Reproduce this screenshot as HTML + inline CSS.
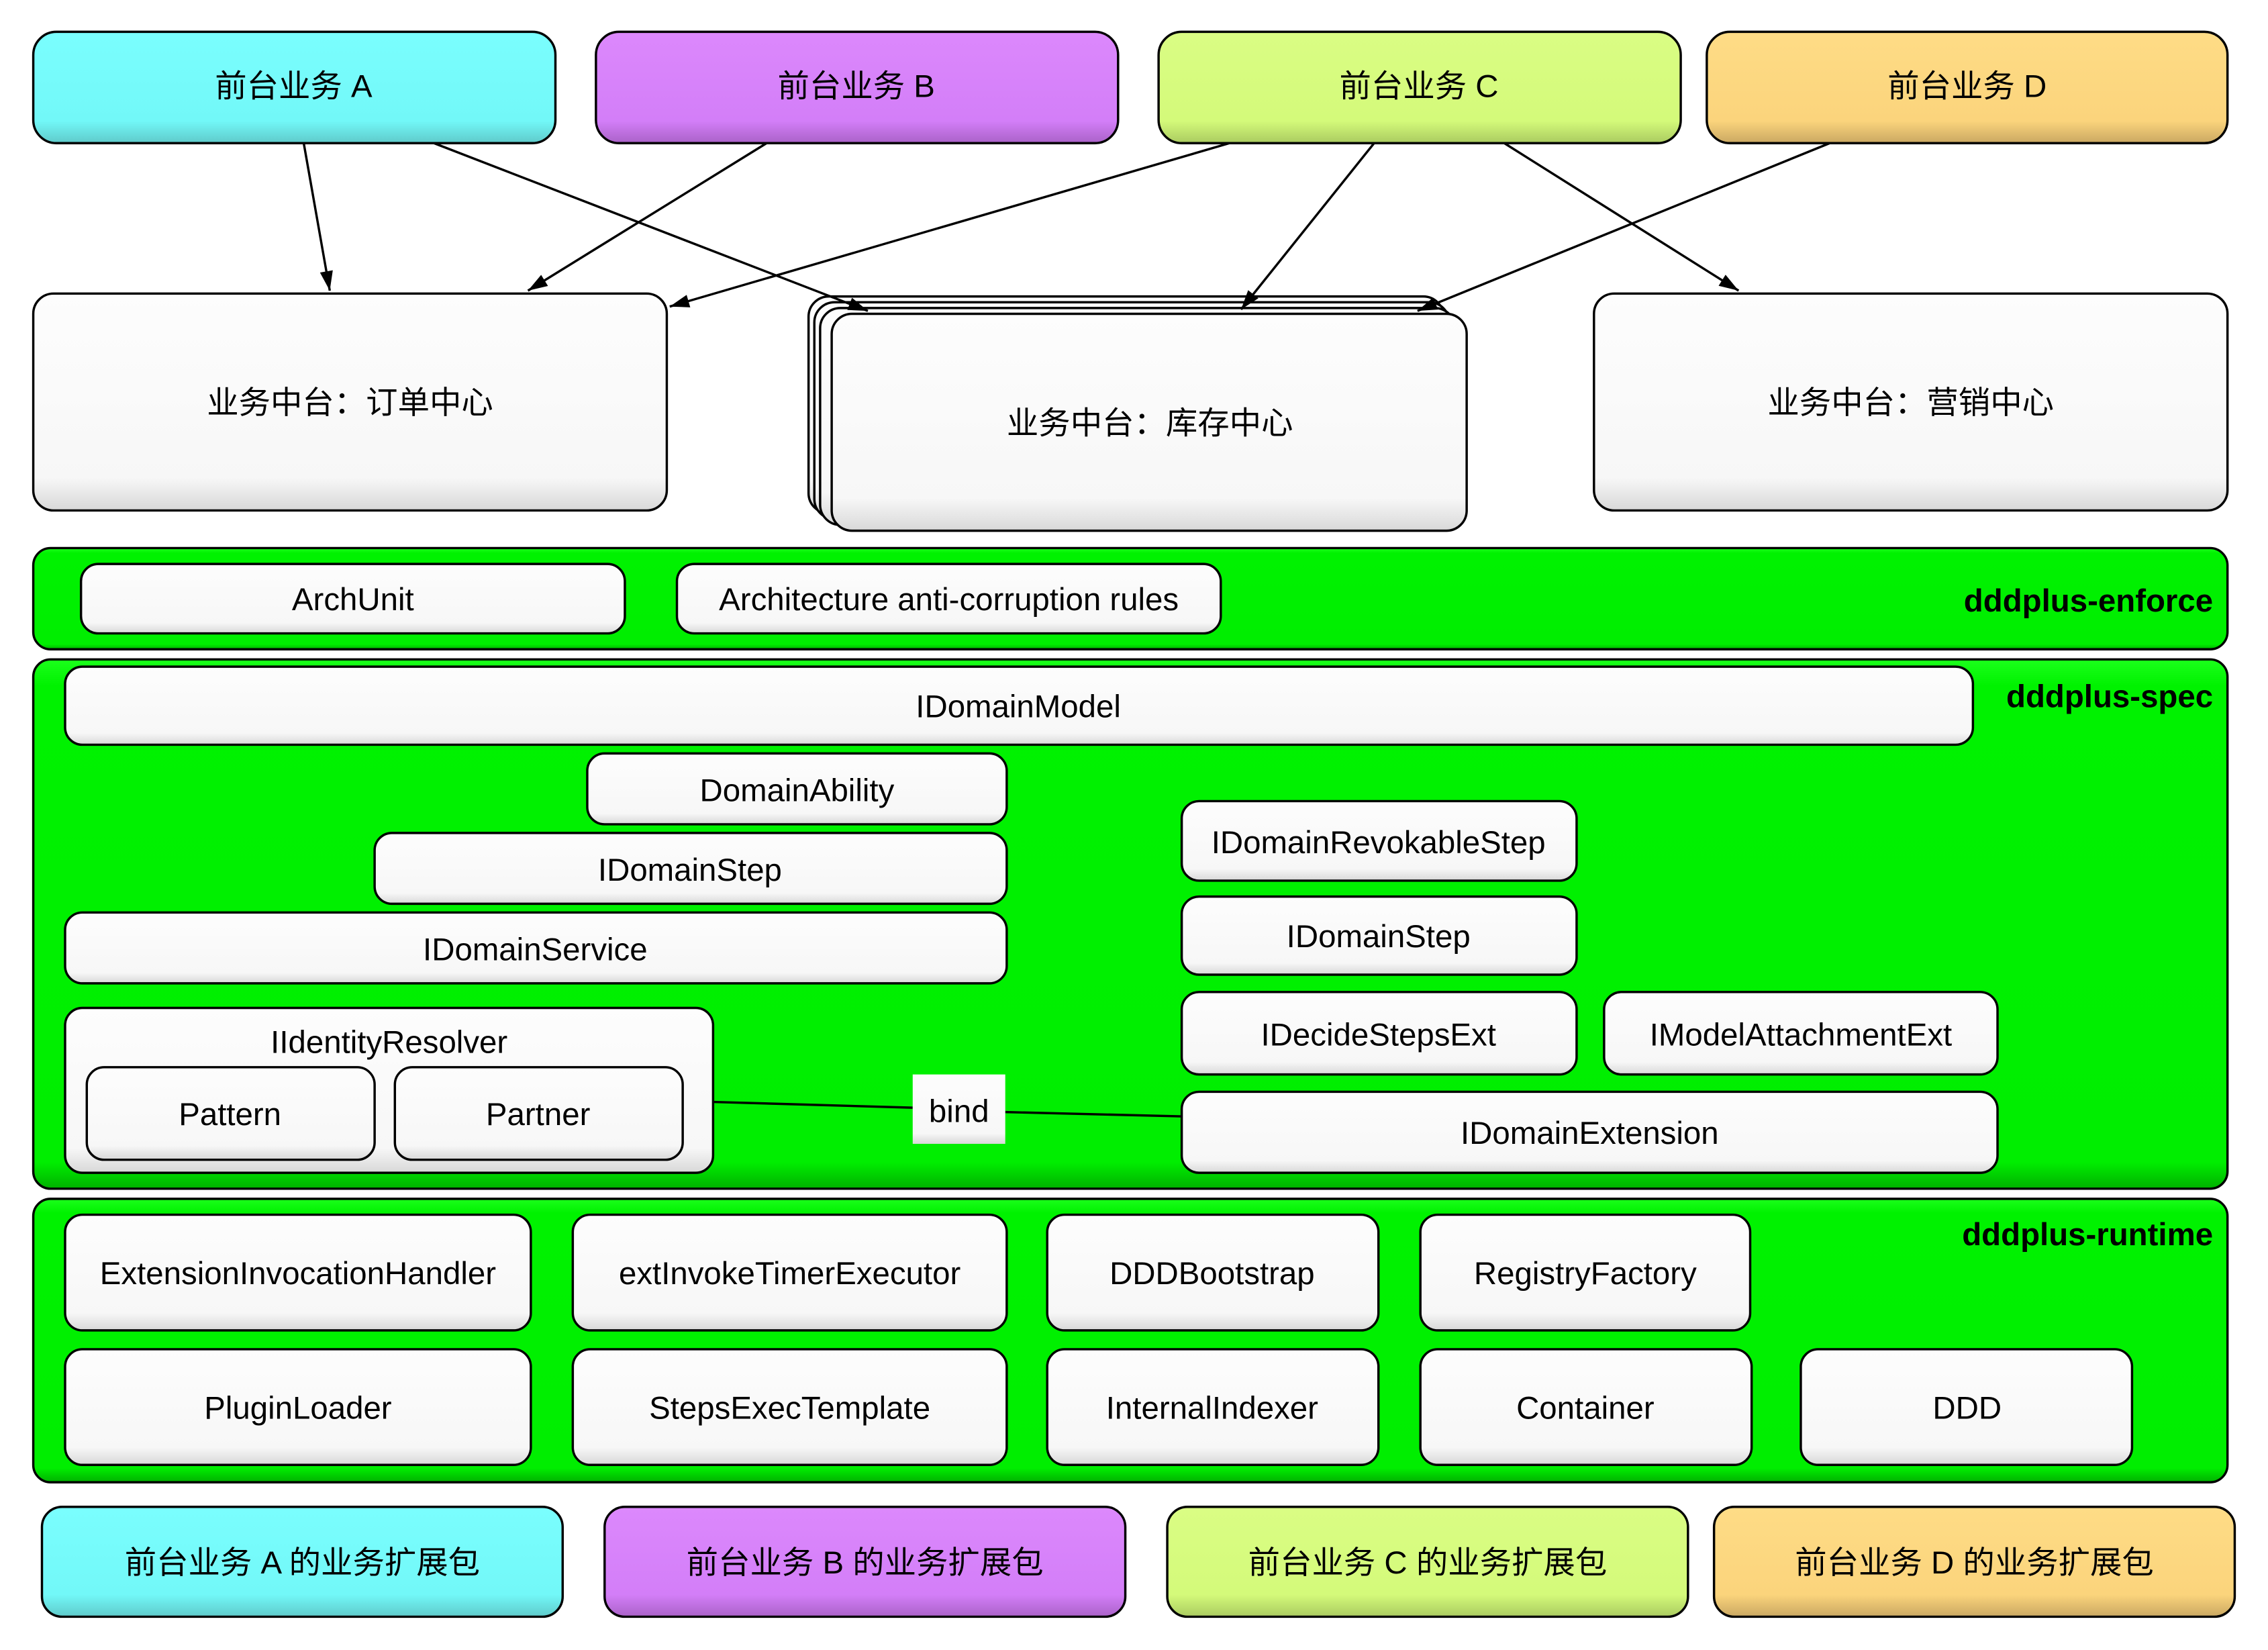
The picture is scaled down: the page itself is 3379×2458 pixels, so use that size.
<!DOCTYPE html>
<html><head><meta charset="utf-8"><style>html,body{margin:0;padding:0;background:#fff}svg{display:block}</style></head><body>
<svg width="3379" height="2458" viewBox="0 0 1568 1141" preserveAspectRatio="none" xmlns="http://www.w3.org/2000/svg" font-family="'Liberation Sans','Noto Sans CJK SC',sans-serif">
<defs>
<linearGradient id="w" x1="0" y1="0" x2="0" y2="1"><stop offset="0" stop-color="#fdfdfd"/><stop offset="0.85" stop-color="#f7f7f7"/><stop offset="1" stop-color="#d8d8d8"/></linearGradient>
<linearGradient id="ca" x1="0" y1="0" x2="0" y2="1"><stop offset="0" stop-color="#7afefe"/><stop offset="0.8" stop-color="#72f8f8"/><stop offset="1" stop-color="#5fcaca"/></linearGradient>
<linearGradient id="cb" x1="0" y1="0" x2="0" y2="1"><stop offset="0" stop-color="#dc88fc"/><stop offset="0.8" stop-color="#d37ef8"/><stop offset="1" stop-color="#aa62c8"/></linearGradient>
<linearGradient id="cc" x1="0" y1="0" x2="0" y2="1"><stop offset="0" stop-color="#dafd84"/><stop offset="0.8" stop-color="#d4fa7a"/><stop offset="1" stop-color="#aacb60"/></linearGradient>
<linearGradient id="cd" x1="0" y1="0" x2="0" y2="1"><stop offset="0" stop-color="#fedc86"/><stop offset="0.8" stop-color="#fbd47c"/><stop offset="1" stop-color="#caa862"/></linearGradient>
<linearGradient id="g" x1="0" y1="0" x2="0" y2="1"><stop offset="0" stop-color="#1bff1b"/><stop offset="0.05" stop-color="#00f200"/><stop offset="0.95" stop-color="#00ee00"/><stop offset="1" stop-color="#00b000"/></linearGradient>
<marker id="ar2" viewBox="0 0 12 8" markerWidth="14" markerHeight="9" refX="12" refY="4" orient="auto" markerUnits="userSpaceOnUse"><path d="M0,0 L12,4 L0,8 Z" fill="#000"/></marker>
</defs>
<g stroke="#000" stroke-width="1.6">
<rect x="23" y="22" width="361" height="77" rx="16" fill="url(#ca)"/>
<rect x="412" y="22" width="361" height="77" rx="16" fill="url(#cb)"/>
<rect x="801" y="22" width="361" height="77" rx="16" fill="url(#cc)"/>
<rect x="1180" y="22" width="360" height="77" rx="16" fill="url(#cd)"/>
<rect x="23" y="203" width="438" height="150" rx="14" fill="url(#w)"/>
<rect x="559" y="205" width="439" height="150" rx="14" fill="url(#w)"/>
<rect x="563" y="209" width="439" height="150" rx="14" fill="url(#w)"/>
<rect x="567" y="213" width="439" height="150" rx="14" fill="url(#w)"/>
<rect x="575" y="217" width="439" height="150" rx="14" fill="url(#w)"/>
<rect x="1102" y="203" width="438" height="150" rx="14" fill="url(#w)"/>
</g>
<g stroke="#000" stroke-width="1.6" fill="none" marker-end="url(#ar2)">
<line x1="210" y1="99" x2="228" y2="201"/>
<line x1="300" y1="99" x2="600" y2="215"/>
<line x1="530" y1="99" x2="365" y2="201"/>
<line x1="850" y1="99" x2="463" y2="212"/>
<line x1="950" y1="99" x2="858" y2="214"/>
<line x1="1040" y1="99" x2="1202" y2="201"/>
<line x1="1265" y1="99" x2="980" y2="215"/>
</g>
<g font-size="22" text-anchor="middle" fill="#000">
<text x="203" y="67">前台业务 A</text>
<text x="592" y="67">前台业务 B</text>
<text x="981" y="67">前台业务 C</text>
<text x="1360" y="67">前台业务 D</text>
<text x="242" y="286">业务中台：订单中心</text>
<text x="795" y="300">业务中台：库存中心</text>
<text x="1321" y="286">业务中台：营销中心</text>
</g>
<g stroke="#000" stroke-width="1.6">
<rect x="23" y="379" width="1517" height="70" rx="12" fill="url(#g)"/>
<rect x="23" y="456" width="1517" height="366" rx="12" fill="url(#g)"/>
<rect x="23" y="829" width="1517" height="196" rx="12" fill="url(#g)"/>
</g>
<g stroke="#000" stroke-width="1.6" fill="url(#w)">
<rect x="56" y="390" width="376" height="48" rx="12"/>
<rect x="468" y="390" width="376" height="48" rx="12"/>
<rect x="45" y="461" width="1319" height="54" rx="12"/>
<rect x="406" y="521" width="290" height="49" rx="12"/>
<rect x="259" y="576" width="437" height="49" rx="12"/>
<rect x="45" y="631" width="651" height="49" rx="12"/>
<rect x="45" y="697" width="448" height="114" rx="12"/>
<rect x="60" y="738" width="199" height="64" rx="12"/>
<rect x="273" y="738" width="199" height="64" rx="12"/>
<rect x="817" y="554" width="273" height="55" rx="12"/>
<rect x="817" y="620" width="273" height="54" rx="12"/>
<rect x="817" y="686" width="273" height="57" rx="12"/>
<rect x="1109" y="686" width="272" height="57" rx="12"/>
<rect x="817" y="755" width="564" height="56" rx="12"/>
<rect x="45" y="840" width="322" height="80" rx="12"/>
<rect x="396" y="840" width="300" height="80" rx="12"/>
<rect x="724" y="840" width="229" height="80" rx="12"/>
<rect x="982" y="840" width="228" height="80" rx="12"/>
<rect x="45" y="933" width="322" height="80" rx="12"/>
<rect x="396" y="933" width="300" height="80" rx="12"/>
<rect x="724" y="933" width="229" height="80" rx="12"/>
<rect x="982" y="933" width="229" height="80" rx="12"/>
<rect x="1245" y="933" width="229" height="80" rx="12"/>
</g>
<g stroke="#000" stroke-width="1.6">
<line x1="493" y1="762" x2="631" y2="766"/>
<line x1="695" y1="769" x2="817" y2="772"/>
</g>
<rect x="631" y="743" width="64" height="48" fill="url(#w)"/>
<g font-size="22" text-anchor="middle" fill="#000">
<text x="244" y="422">ArchUnit</text>
<text x="656" y="422">Architecture anti-corruption rules</text>
<text x="704" y="496">IDomainModel</text>
<text x="551" y="554">DomainAbility</text>
<text x="477" y="609">IDomainStep</text>
<text x="370" y="664">IDomainService</text>
<text x="269" y="728">IIdentityResolver</text>
<text x="159" y="778">Pattern</text>
<text x="372" y="778">Partner</text>
<text x="953" y="590">IDomainRevokableStep</text>
<text x="953" y="655">IDomainStep</text>
<text x="953" y="723">IDecideStepsExt</text>
<text x="1245" y="723">IModelAttachmentExt</text>
<text x="1099" y="791">IDomainExtension</text>
<text x="663" y="776">bind</text>
<text x="206" y="888">ExtensionInvocationHandler</text>
<text x="546" y="888">extInvokeTimerExecutor</text>
<text x="838" y="888">DDDBootstrap</text>
<text x="1096" y="888">RegistryFactory</text>
<text x="206" y="981">PluginLoader</text>
<text x="546" y="981">StepsExecTemplate</text>
<text x="838" y="981">InternalIndexer</text>
<text x="1096" y="981">Container</text>
<text x="1360" y="981">DDD</text>
</g>
<g font-size="22" font-weight="bold" text-anchor="end" fill="#000">
<text x="1530" y="423">dddplus-enforce</text>
<text x="1530" y="489">dddplus-spec</text>
<text x="1530" y="861">dddplus-runtime</text>
</g>
<g stroke="#000" stroke-width="1.6">
<rect x="29" y="1042" width="360" height="76" rx="14" fill="url(#ca)"/>
<rect x="418" y="1042" width="360" height="76" rx="14" fill="url(#cb)"/>
<rect x="807" y="1042" width="360" height="76" rx="14" fill="url(#cc)"/>
<rect x="1185" y="1042" width="360" height="76" rx="14" fill="url(#cd)"/>
</g>
<g font-size="22" text-anchor="middle" fill="#000">
<text x="209" y="1088">前台业务 A 的业务扩展包</text>
<text x="598" y="1088">前台业务 B 的业务扩展包</text>
<text x="987" y="1088">前台业务 C 的业务扩展包</text>
<text x="1365" y="1088">前台业务 D 的业务扩展包</text>
</g>
</svg>
</body></html>
